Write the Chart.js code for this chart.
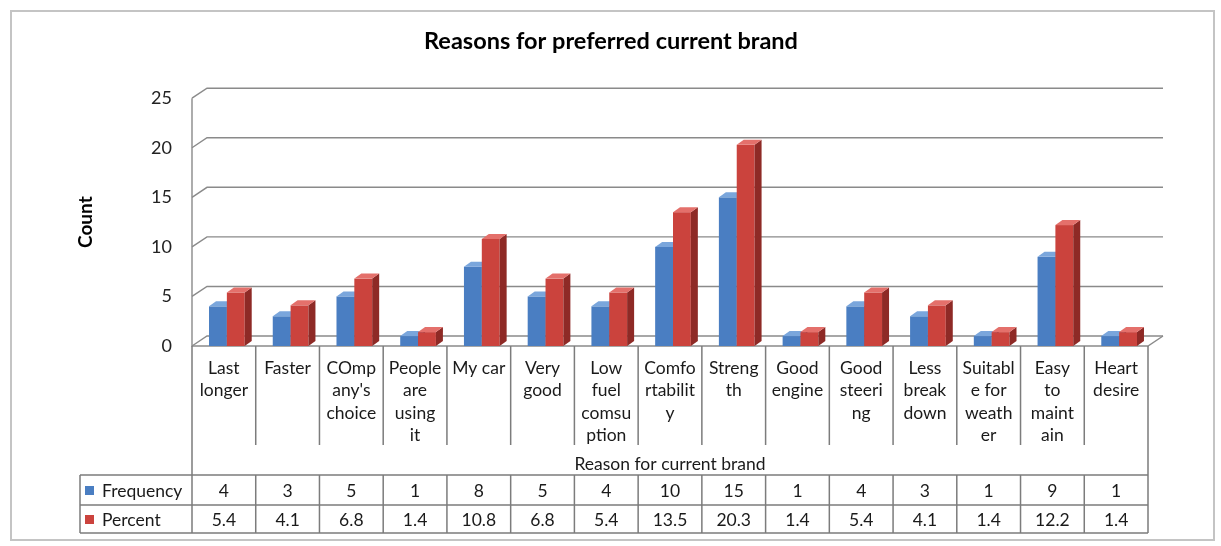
<!DOCTYPE html>
<html><head><meta charset="utf-8">
<script src="https://cdn.jsdelivr.net/npm/chart.js@4.4.0/dist/chart.umd.min.js"></script>
<style>html,body{margin:0;padding:0;background:#fff}#wrap{width:1221px;height:546px;position:relative}canvas{display:block}</style>
</head><body><div id="wrap"><canvas id="c" width="1221" height="546"></canvas></div>
<script>
// ---- data ----
const categories = [["Last","longer"],["Faster"],["COmp","any's","choice"],["People","are","using","it"],["My car"],["Very","good"],["Low","fuel","comsu","ption"],["Comfo","rtabilit","y"],["Streng","th"],["Good","engine"],["Good","steeri","ng"],["Less","break","down"],["Suitabl","e for","weath","er"],["Easy","to","maint","ain"],["Heart","desire"]];
const frequency = [4,3,5,1,8,5,4,10,15,1,4,3,1,9,1];
const percent = [5.4,4.1,6.8,1.4,10.8,6.8,5.4,13.5,20.3,1.4,5.4,4.1,1.4,12.2,1.4];
const yTicks = [0,5,10,15,20,25];
const seriesNames = ["Frequency","Percent"];
const chartTitle = "Reasons for preferred current brand";
const yTitle = "Count";
const xTitle = "Reason for current brand";

// ---- style ----
const FONT = "Lato, 'Open Sans', sans-serif";
const COLORS = [
  {front:'#4a7ec2', top:'#7aa6dc', side:'#2c5a95'},
  {front:'#cb433d', top:'#e4706b', side:'#8e2a26'}
];
const WALL = {dx:15, dy:-10};
const BAR = {dx:7, dy:-5, shift:3};
const GRID = '#8a8a8a';

function drawBar3D(ctx, el, c){
  const x0 = el.x - el.width/2 + BAR.shift, x1 = el.x + el.width/2 + BAR.shift, yt = el.y, yb = el.base;
  ctx.fillStyle = c.front;
  ctx.fillRect(x0, yt, x1-x0, yb-yt);
  ctx.fillStyle = c.side;
  ctx.beginPath(); ctx.moveTo(x1,yt); ctx.lineTo(x1+BAR.dx,yt+BAR.dy); ctx.lineTo(x1+BAR.dx,yb+BAR.dy); ctx.lineTo(x1,yb); ctx.closePath(); ctx.fill();
  ctx.fillStyle = c.top;
  ctx.beginPath(); ctx.moveTo(x0,yt); ctx.lineTo(x1,yt); ctx.lineTo(x1+BAR.dx,yt+BAR.dy); ctx.lineTo(x0+BAR.dx,yt+BAR.dy); ctx.closePath(); ctx.fill();
}

const threeD = {
  id:'threeD',
  beforeDraw(chart){
    const ctx = chart.ctx;
    ctx.save();
    ctx.fillStyle = '#fff'; ctx.fillRect(0,0,chart.width,chart.height);
    ctx.strokeStyle = '#c4c4c4'; ctx.lineWidth = 2;
    ctx.strokeRect(11,11,1203,529);
    ctx.restore();
  },
  beforeDatasetsDraw(chart){
    const {ctx, chartArea:a, scales:{y}} = chart;
    ctx.save(); ctx.strokeStyle = GRID; ctx.lineWidth = 1.4;
    yTicks.forEach(v => {
      const py = y.getPixelForValue(v);
      ctx.beginPath(); ctx.moveTo(a.left,py); ctx.lineTo(a.left+WALL.dx,py+WALL.dy); ctx.lineTo(a.right+WALL.dx,py+WALL.dy); ctx.stroke();
    });
    ctx.beginPath();
    ctx.moveTo(a.left, y.getPixelForValue(yTicks[yTicks.length-1]));
    ctx.lineTo(a.left, a.bottom); ctx.lineTo(a.right, a.bottom); ctx.lineTo(a.right+WALL.dx, a.bottom+WALL.dy);
    ctx.stroke();
    ctx.restore();
  },
  afterDatasetsDraw(chart){
    const ctx = chart.ctx;
    ctx.save();
    const m0 = chart.getDatasetMeta(0), m1 = chart.getDatasetMeta(1);
    m0.data.forEach((el,i) => { drawBar3D(ctx, el, COLORS[0]); drawBar3D(ctx, m1.data[i], COLORS[1]); });
    ctx.restore();
  },
  afterDraw(chart){
    const {ctx, chartArea:a, scales:{x}} = chart;
    const n = categories.length;
    const cw = (a.right - a.left)/n;
    const labelsBottom = 445, rowTop = 475, rowMid = 505, rowBot = 533, legLeft = 80;
    ctx.save();
    ctx.strokeStyle = '#7c7c7c'; ctx.lineWidth = 1.5;
    ctx.beginPath();
    ctx.moveTo(a.left, a.bottom); ctx.lineTo(a.left, rowBot);
    ctx.moveTo(a.right, a.bottom); ctx.lineTo(a.right, rowBot);
    for (let i=1;i<n;i++){
      const ex = x.getPixelForValue(i) - cw/2;
      ctx.moveTo(ex, a.bottom); ctx.lineTo(ex, labelsBottom);
      ctx.moveTo(ex, rowTop); ctx.lineTo(ex, rowBot);
    }
    [rowTop,rowMid,rowBot].forEach(yy => { ctx.moveTo(legLeft,yy); ctx.lineTo(a.right,yy); });
    ctx.moveTo(legLeft,rowTop); ctx.lineTo(legLeft,rowBot);
    ctx.stroke();
    ctx.fillStyle = '#1a1a1a'; ctx.textAlign = 'center'; ctx.textBaseline = 'middle';
    ctx.font = "17.5px " + FONT;
    categories.forEach((lines,i) => {
      const cx = x.getPixelForValue(i);
      lines.forEach((t,k) => ctx.fillText(t, cx, 368 + k*22.6));
    });
    ctx.fillText(xTitle, (a.left+a.right)/2, 464);
    const rows = [frequency.map(v=>String(v)), percent.map(v=>v.toFixed(1))];
    const rowY = [(rowTop+rowMid)/2, (rowMid+rowBot)/2];
    rows.forEach((vals,r) => vals.forEach((t,i) => ctx.fillText(t, x.getPixelForValue(i), rowY[r]+1)));
    ctx.textAlign = 'left';
    seriesNames.forEach((name,r) => {
      ctx.fillStyle = COLORS[r].front; ctx.fillRect(85, rowY[r]-4, 9, 9);
      ctx.fillStyle = '#1a1a1a'; ctx.fillText(name, 102, rowY[r]+1);
    });
    ctx.restore();
  }
};

new Chart(document.getElementById('c'), {
  type:'bar',
  data:{
    labels: categories,
    datasets:[
      {label:seriesNames[0], data:frequency, backgroundColor:'rgba(0,0,0,0)'},
      {label:seriesNames[1], data:percent, backgroundColor:'rgba(0,0,0,0)'}
    ]
  },
  options:{
    responsive:false, animation:false, devicePixelRatio:1,
    datasets:{bar:{categoryPercentage:0.56, barPercentage:1}},
    layout:{padding:{left:74, right:73, top:17, bottom:200}},
    plugins:{
      legend:{display:false}, tooltip:{enabled:false},
      title:{display:true, text:chartTitle, color:'#000', font:{family:FONT, size:23.5, weight:'bold'}, padding:{top:10,bottom:43}}
    },
    scales:{
      x:{display:false},
      y:{min:0, max:25,
         ticks:{stepSize:5, padding:20, color:'#222', font:{family:FONT, size:18}},
         grid:{display:false, drawTicks:false}, border:{display:false},
         title:{display:true, text:yTitle, color:'#000', font:{family:FONT, size:19, weight:'bold'}, padding:0},
         afterFit(s){ s.width = 118; }
      }
    }
  },
  plugins:[threeD]
});
</script>
</body></html>
